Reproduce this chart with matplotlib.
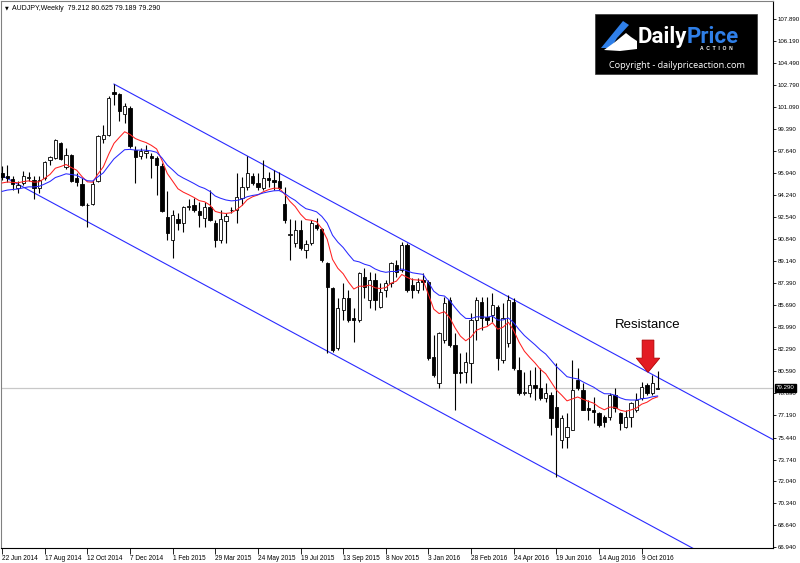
import matplotlib.pyplot as plt
from matplotlib.patches import Rectangle, Polygon
from matplotlib.transforms import blended_transform_factory

# weekly AUDJPY candles (22 Jun 2014 .. 30 Oct 2016)
opens = [95.96, 95.75, 95.49, 94.80, 95.18, 95.57, 95.41, 94.79, 95.57, 96.99,
         97.12, 98.28, 96.40, 97.38, 95.57, 95.10, 93.50, 93.55, 95.36, 98.62,
         98.88, 102.21, 102.08, 100.56, 100.99, 97.76, 97.25, 97.51, 97.25, 97.12,
         96.47, 92.52, 90.76, 92.36, 92.05, 93.29, 93.47, 93.03, 92.44, 93.34,
         92.10, 90.76, 92.26, 93.06, 93.09, 93.99, 94.84, 95.75, 95.15, 94.76,
         95.59, 95.41, 95.36, 93.55, 91.15, 90.50, 91.53, 89.98, 90.50, 91.92,
         91.59, 88.95, 87.01, 82.36, 85.33, 86.24, 84.69, 84.56, 87.91, 86.11,
         87.66, 85.59, 86.88, 87.40, 88.82, 88.43, 90.37, 87.27, 86.88, 87.66,
         87.53, 81.71, 79.65, 83.01, 86.11, 82.62, 80.55, 80.55, 81.20, 84.56,
         85.98, 84.82, 84.94, 85.59, 81.46, 82.75, 85.98, 80.68, 78.87, 78.87,
         79.52, 79.26, 78.49, 78.74, 77.84, 75.26, 75.51, 76.03, 79.91, 79.13,
         77.71, 77.58, 77.32, 77.06, 77.06, 78.74, 77.32, 76.29, 77.06, 77.58,
         78.49, 79.52, 78.87, 79.212]
highs = [96.47, 96.55, 95.70, 95.31, 96.14, 96.01, 95.70, 95.70, 96.86, 97.25,
         98.59, 98.34, 97.89, 97.43, 95.96, 95.57, 93.63, 95.44, 98.88, 99.70,
         101.90, 102.85, 102.16, 101.38, 101.12, 98.02, 97.89, 98.15, 97.51, 97.25,
         96.73, 94.53, 93.09, 92.83, 93.40, 93.91, 93.99, 93.73, 93.73, 94.63,
         92.31, 93.09, 92.88, 93.34, 95.93, 95.67, 97.27, 95.98, 95.93, 96.96,
         96.05, 96.18, 96.05, 94.89, 92.36, 92.31, 92.31, 90.76, 92.31, 92.44,
         91.66, 89.08, 87.14, 86.24, 87.40, 86.88, 85.46, 88.30, 88.56, 88.30,
         88.17, 87.40, 87.66, 89.08, 89.21, 90.63, 90.50, 87.79, 87.79, 88.17,
         87.66, 83.39, 83.65, 86.37, 86.37, 83.52, 81.97, 82.10, 85.07, 86.37,
         86.37, 86.37, 86.62, 85.72, 85.85, 86.50, 86.24, 81.71, 80.55, 80.68,
         80.94, 80.81, 79.65, 79.00, 81.20, 77.19, 77.32, 81.46, 80.81, 79.65,
         78.36, 78.61, 77.45, 77.19, 78.87, 79.26, 77.45, 77.58, 78.23, 78.87,
         79.78, 79.65, 80.29, 80.625]
lows = [95.44, 95.26, 94.66, 94.41, 95.00, 95.31, 93.97, 94.41, 95.44, 96.55,
        97.04, 96.99, 96.29, 95.26, 94.92, 93.37, 91.77, 93.45, 95.26, 98.28,
        98.80, 101.25, 99.96, 99.83, 97.89, 95.18, 97.07, 97.12, 95.57, 94.28,
        92.90, 90.79, 89.34, 91.53, 91.40, 93.09, 92.95, 91.79, 91.79, 92.26,
        90.19, 90.50, 90.50, 92.83, 92.05, 93.47, 94.63, 95.02, 94.63, 94.63,
        94.89, 94.63, 94.63, 92.05, 89.21, 90.24, 89.98, 89.34, 90.37, 91.53,
        89.08, 82.00, 82.10, 82.23, 84.56, 84.43, 82.88, 84.43, 86.24, 85.46,
        85.33, 85.46, 86.37, 87.14, 87.91, 88.30, 86.75, 86.24, 86.62, 86.88,
        81.46, 80.16, 79.26, 82.75, 82.49, 77.58, 79.65, 79.65, 79.65, 83.01,
        83.78, 84.17, 84.43, 80.68, 81.20, 82.49, 80.68, 78.74, 78.74, 78.61,
        78.36, 78.36, 78.23, 75.64, 72.41, 74.61, 74.61, 76.03, 79.13, 77.58,
        76.80, 76.55, 76.29, 76.29, 76.80, 77.45, 76.03, 76.16, 76.29, 77.45,
        78.36, 78.74, 78.74, 79.189]
closes = [95.62, 95.60, 95.10, 95.05, 95.70, 95.60, 94.79, 95.44, 96.78, 97.17,
          98.49, 97.04, 97.33, 95.31, 95.23, 93.45, 93.45, 95.10, 98.80, 98.88,
          101.77, 102.08, 100.79, 101.12, 98.02, 97.20, 97.69, 97.69, 97.12, 96.55,
          92.98, 91.30, 92.69, 92.05, 93.29, 93.40, 93.09, 92.69, 93.34, 92.31,
          90.76, 92.36, 92.62, 93.12, 94.12, 94.89, 95.93, 95.15, 94.89, 95.59,
          95.41, 95.28, 94.76, 92.31, 91.22, 91.53, 90.11, 90.45, 92.05, 91.66,
          89.21, 87.14, 82.23, 85.46, 86.24, 84.56, 84.56, 88.17, 87.14, 87.66,
          86.11, 86.75, 87.40, 88.95, 88.30, 90.37, 86.88, 86.88, 87.53, 87.53,
          81.58, 80.29, 83.52, 85.85, 82.62, 80.42, 80.42, 81.33, 84.56, 86.11,
          84.69, 84.56, 85.72, 81.58, 84.69, 86.11, 80.81, 78.87, 78.95, 79.52,
          79.26, 78.49, 78.87, 76.93, 76.29, 76.93, 76.29, 79.13, 79.26, 77.58,
          77.58, 77.45, 76.42, 76.67, 78.74, 77.71, 76.55, 77.06, 78.10, 78.36,
          79.39, 78.87, 79.65, 79.290]

date_labels = ["22 Jun 2014", "17 Aug 2014", "12 Oct 2014", "7 Dec 2014", "1 Feb 2015",
               "29 Mar 2015", "24 May 2015", "19 Jul 2015", "13 Sep 2015", "8 Nov 2015",
               "3 Jan 2016", "28 Feb 2016", "24 Apr 2016", "19 Jun 2016", "14 Aug 2016",
               "9 Oct 2016"]
price_ticks = [107.890, 106.190, 104.490, 102.790, 101.090, 99.390, 97.640, 95.940,
               94.240, 92.540, 90.840, 89.140, 87.390, 85.690, 83.990, 82.290, 80.590,
               78.890, 77.190, 75.440, 73.740, 72.040, 70.340, 68.640, 66.940]
last_price = 79.290

# moving averages (start values)
red_period, red_start = 10, 95.18
blue_period, blue_start = 20, 94.53

# channel: upper line from the Dec 2014 high, lower line parallel
chan_slope = -0.2229          # price per week
upper_start = (21, 102.85)
lower_start = (0, 95.75)


def ema(values, period, start):
    k = 2.0 / (period + 1)
    out = [start]
    for v in values[1:]:
        out.append(out[-1] + k * (v - out[-1]))
    return out


n = len(closes)
idx = list(range(n))
x_end = 146

plt.rcParams['font.family'] = ['Liberation Sans', 'DejaVu Sans']
fig = plt.figure(figsize=(8, 5.63), dpi=100)
ax = fig.add_axes([1 / 800, 15 / 563, 772 / 800, 547 / 563])
ax.set_xlim(-0.2, 144.65)
ax.set_ylim(66.88, 109.29)

# current price line
ax.axhline(last_price, color='#c8c8c8', lw=0.9, zorder=1)

# channel
ax.plot([upper_start[0], x_end], [upper_start[1], upper_start[1] + chan_slope * (x_end - upper_start[0])],
        color='#2a2aff', lw=0.8, zorder=2)
ax.plot([lower_start[0], x_end], [lower_start[1], lower_start[1] + chan_slope * (x_end - lower_start[0])],
        color='#2a2aff', lw=0.8, zorder=2)

# candles
ax.vlines(idx, lows, highs, color='black', lw=0.8, zorder=3)
for i in idx:
    o, c = opens[i], closes[i]
    bottom = min(o, c)
    h = max(abs(c - o), 0.06)
    face = 'white' if c >= o else 'black'
    ax.bar(i, h, bottom=bottom, width=0.62, color=face, edgecolor='black', lw=0.6, zorder=4)

# moving averages
ax.plot(idx, ema(closes, red_period, red_start), color='#ff2020', lw=0.75, zorder=5)
ax.plot(idx, ema(closes, blue_period, blue_start), color='#2828ff', lw=0.75, zorder=5)

# axes styling
for s in ['left', 'top']:
    ax.spines[s].set_color('#808080')
    ax.spines[s].set_linewidth(0.8)
for s in ['right', 'bottom']:
    ax.spines[s].set_color('black')
    ax.spines[s].set_linewidth(0.8)
ax.yaxis.tick_right()
ax.set_yticks(price_ticks)
ax.set_yticklabels(['%.3f' % p for p in price_ticks])
ax.tick_params(axis='y', length=2.5, width=0.6, pad=1.0, labelsize=4.4, colors='black')
ax.set_xticks(list(range(0, 8 * len(date_labels), 8)))
ax.set_xticklabels(date_labels, ha='left')
ax.tick_params(axis='x', length=4, width=0.6, pad=1, labelsize=4.7)

# last price box on the right axis
trans = blended_transform_factory(ax.transAxes, ax.transData)
ax.text(1.004, last_price, '%.3f' % last_price, transform=trans, ha='left', va='center',
        fontsize=4.4, color='white', zorder=10, clip_on=False,
        bbox=dict(boxstyle='square,pad=0.2', fc='black', ec='black'))

# resistance note + arrow
ax.text(121.2, 84.2, 'Resistance', ha='center', va='center', fontsize=9.5, color='black', zorder=6)
arrow = Polygon([(120.1, 83.0), (122.3, 83.0), (122.3, 81.6), (123.4, 81.6),
                 (121.2, 80.5), (119.0, 81.6), (120.1, 81.6)],
                closed=True, fc='#e31b23', ec='#b00000', lw=0.6, zorder=6)
ax.add_patch(arrow)

# header
fig.text(5 / 800, 1 - 8 / 563, '\u25bc', fontsize=3.5, va='center', family='DejaVu Sans')
fig.text(12 / 800, 1 - 8 / 563, 'AUDJPY,Weekly  79.212 80.625 79.189 79.290', fontsize=5.0, va='center')

# logo
lax = fig.add_axes([0, 0, 1, 1], zorder=20)
lax.set_xlim(0, 800)
lax.set_ylim(563, 0)
lax.axis('off')
lax.add_patch(Rectangle((595, 14), 162, 60, fc='black', ec='#333333', lw=0.5))
lax.add_patch(Polygon([(601, 48), (623, 21), (629, 25), (617, 38), (611, 48)], fc='#2f7fe8', ec='none'))
lax.add_patch(Polygon([(604, 50), (615, 42), (626, 33), (631, 37), (637, 41), (637, 49), (620, 51)],
                      fc='white', ec='none'))
lax.text(638, 43, 'Daily', color='white', fontsize=16, fontweight='bold', family='Roboto', va='baseline')
lax.text(687, 43, 'Price', color='#2f7fe8', fontsize=16, fontweight='bold', family='Roboto', va='baseline')
lax.text(716, 49, 'A  C  T  I  O  N', color='white', fontsize=3.6, ha='center', va='center', fontweight='bold')
lax.text(677, 65, 'Copyright - dailypriceaction.com', color='white', fontsize=6.6, ha='center',
         va='center', family='Open Sans')

fig.savefig('out.png', dpi=100)
